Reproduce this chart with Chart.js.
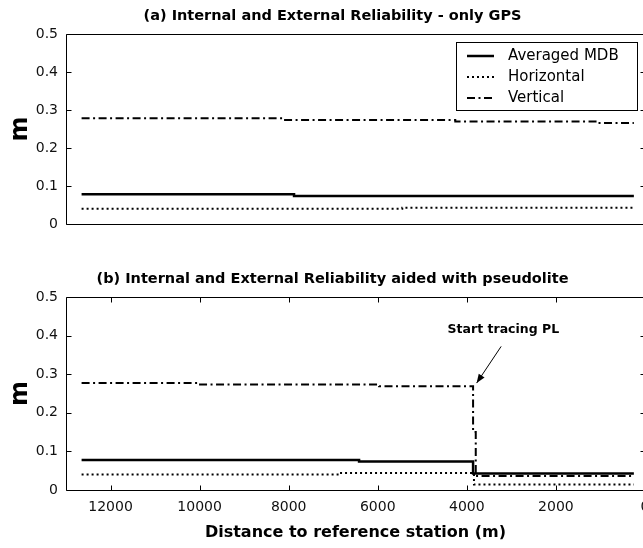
<!DOCTYPE html>
<html><head><meta charset="utf-8">
<script src="https://cdn.jsdelivr.net/npm/chart.js@4/dist/chart.umd.min.js"></script>
<style>
html,body{margin:0;padding:0;background:#fff;overflow:hidden;width:643px;height:548px;}
#wrap{position:relative;width:643px;height:548px;overflow:hidden;background:#fff;}
canvas{position:absolute;left:0;}
#ca{top:0;} #cb{top:250px;}
</style></head><body>
<div id="wrap"><canvas id="ca" width="660" height="245"></canvas><canvas id="cb" width="660" height="298"></canvas></div>
<script>
// ---------- data ----------
const seriesLabels = ['Averaged MDB', 'Horizontal', 'Vertical'];
const xTickValues = [12000, 10000, 8000, 6000, 4000, 2000, 0];
const yTickValues = [0, 0.1, 0.2, 0.3, 0.4, 0.5];
// (a) only GPS
const aMdbX = [12650, 7880, 250];
const aMdbY = [0.078, 0.074, 0.074];
const aHorX = [12650, 5450, 250];
const aHorY = [0.040, 0.043, 0.043];
const aVerX = [12650, 8130, 4260, 1050, 250];
const aVerY = [0.278, 0.274, 0.270, 0.266, 0.266];
// (b) aided with pseudolite
const bMdbX = [12650, 6420, 3860, 250];
const bMdbY = [0.078, 0.074, 0.043, 0.043];
const bHorX = [12650, 6850, 3840, 250];
const bHorY = [0.040, 0.044, 0.014, 0.014];
const bVerX = [12650, 9990, 5970, 3860, 3800, 250];
const bVerY = [0.277, 0.273, 0.269, 0.150, 0.036, 0.036];
// annotation (data coordinates)
const noteText = 'Start tracing PL';
const noteTextAt = [3180, 0.415];
const noteTail = [3230, 0.372];
const noteTip = [3780, 0.277];
const titleA = '(a) Internal and External Reliability - only GPS';
const titleB = '(b) Internal and External Reliability aided with pseudolite';
const xTitle = 'Distance to reference station (m)';
const yTitle = 'm';

// ---------- styles ----------
const lineStyles = [
  {borderWidth: 2.5, borderDash: []},
  {borderWidth: 2, borderDash: [2, 3]},
  {borderWidth: 2, borderDash: [8, 3.5, 2, 3.5]}
];

function makeDataset(i, xs, ys) {
  return {
    label: seriesLabels[i],
    data: xs.map((x, k) => ({x: x, y: ys[k]})),
    stepped: true,
    borderColor: '#000',
    backgroundColor: '#000',
    borderWidth: lineStyles[i].borderWidth,
    borderDash: lineStyles[i].borderDash,
    borderCapStyle: 'butt',
    pointRadius: 0,
    fill: false
  };
}

const framePlugin = {
  id: 'frame',
  afterDraw(chart, args, o) {
    const ctx = chart.ctx, a = chart.chartArea, xs = chart.scales.x, ys = chart.scales.y;
    const L = Math.round(a.left) + 0.5, R = Math.round(a.right) + 0.5, T = Math.round(a.top) + 0.5, B = Math.round(a.bottom) + 0.5;
    ctx.save();
    ctx.strokeStyle = '#000';
    ctx.lineWidth = 1;
    ctx.setLineDash([]);
    ctx.beginPath();
    ctx.rect(L, T, R - L, B - T);
    const tl = 5;
    yTickValues.forEach(v => {
      const p = Math.round(ys.getPixelForValue(v)) + 0.5;
      ctx.moveTo(L, p); ctx.lineTo(L + tl, p);
      ctx.moveTo(R, p); ctx.lineTo(R - tl, p);
    });
    if (o && o.xTicks) {
      xTickValues.forEach(v => {
        const p = Math.round(xs.getPixelForValue(v)) + 0.5;
        ctx.moveTo(p, B); ctx.lineTo(p, B - tl);
        ctx.moveTo(p, T); ctx.lineTo(p, T + tl);
      });
    }
    ctx.stroke();
    ctx.restore();
  }
};

const legendPlugin = {
  id: 'boxLegend',
  afterDraw(chart, args, o) {
    if (!o || !o.show) return;
    const ctx = chart.ctx;
    ctx.save();
    ctx.fillStyle = '#fff';
    ctx.fillRect(o.x, o.y, o.w, o.h);
    ctx.strokeStyle = '#000';
    ctx.lineWidth = 1;
    ctx.setLineDash([]);
    ctx.strokeRect(o.x + 0.5, o.y + 0.5, o.w, o.h);
    chart.data.datasets.forEach((d, i) => {
      const yy = o.y + o.rows[i];
      ctx.setLineDash(d.borderDash || []);
      ctx.lineWidth = d.borderWidth;
      ctx.lineCap = 'butt';
      ctx.beginPath();
      ctx.moveTo(o.x + 11, yy); ctx.lineTo(o.x + 38, yy);
      ctx.stroke();
      ctx.setLineDash([]);
      ctx.fillStyle = '#000';
      ctx.font = '15px "DejaVu Sans"';
      ctx.textAlign = 'left';
      ctx.textBaseline = 'middle';
      ctx.fillText(d.label, o.x + 52, yy);
    });
    ctx.restore();
  }
};

const notePlugin = {
  id: 'note',
  afterDraw(chart, args, o) {
    if (!o || !o.show) return;
    const ctx = chart.ctx, xs = chart.scales.x, ys = chart.scales.y;
    const tx = xs.getPixelForValue(noteTip[0]), ty = ys.getPixelForValue(noteTip[1]);
    const sx = xs.getPixelForValue(noteTail[0]), sy = ys.getPixelForValue(noteTail[1]);
    ctx.save();
    ctx.strokeStyle = '#000'; ctx.fillStyle = '#000';
    ctx.lineWidth = 1; ctx.setLineDash([]);
    ctx.beginPath(); ctx.moveTo(sx, sy); ctx.lineTo(tx, ty); ctx.stroke();
    const ang = Math.atan2(ty - sy, tx - sx), hl = 9, hw = 3.5;
    ctx.beginPath();
    ctx.moveTo(tx, ty);
    ctx.lineTo(tx - hl * Math.cos(ang) + hw * Math.sin(ang), ty - hl * Math.sin(ang) - hw * Math.cos(ang));
    ctx.lineTo(tx - hl * Math.cos(ang) - hw * Math.sin(ang), ty - hl * Math.sin(ang) + hw * Math.cos(ang));
    ctx.closePath(); ctx.fill();
    ctx.font = 'bold 12.5px "DejaVu Sans"';
    ctx.textAlign = 'center'; ctx.textBaseline = 'middle';
    ctx.fillText(noteText, xs.getPixelForValue(noteTextAt[0]), ys.getPixelForValue(noteTextAt[1]));
    ctx.restore();
  }
};

function makeOptions(cfg) {
  return {
    responsive: false,
    animation: false,
    devicePixelRatio: 1,
    layout: {padding: {left: 20, right: 15, top: 0, bottom: cfg.padBottom}},
    plugins: {
      legend: {display: false},
      tooltip: {enabled: false},
      title: {
        display: true, text: cfg.title, color: '#000',
        font: {family: 'DejaVu Sans', weight: 'bold', size: 14.5},
        padding: {top: cfg.titleTop, bottom: cfg.titleBottom}
      },
      frame: {xTicks: cfg.showX},
      boxLegend: cfg.legend,
      note: {show: cfg.note}
    },
    scales: {
      x: {
        type: 'linear', reverse: true, min: 0, max: 13000,
        afterBuildTicks: s => { s.ticks = xTickValues.map(v => ({value: v})); },
        ticks: {display: cfg.showX, color: '#111', font: {family: 'DejaVu Sans', size: 14}, padding: 9, maxRotation: 0, autoSkip: false, callback: v => String(v)},
        grid: {display: false, drawTicks: false}, border: {display: false},
        title: {display: cfg.showX, text: xTitle, color: '#000', font: {family: 'DejaVu Sans', weight: 'bold', size: 16}, padding: {top: 0, bottom: 5.6}},
        afterFit: s => { s.height = cfg.showX ? 58 : 0; }
      },
      y: {
        min: 0, max: 0.5,
        afterBuildTicks: s => { s.ticks = yTickValues.map(v => ({value: v})); },
        ticks: {color: '#111', font: {family: 'DejaVu Sans', size: 14}, padding: 8, callback: v => String(v)},
        grid: {display: false, drawTicks: false}, border: {display: false},
        title: {display: true, text: yTitle, color: '#000', font: {family: 'DejaVu Sans', weight: 'bold', size: 24}, padding: {top: -13.6, bottom: 0}},
        afterFit: s => { s.width = 46; }
      }
    }
  };
}

new Chart(document.getElementById('ca'), {
  type: 'line',
  data: {datasets: [makeDataset(0, aMdbX, aMdbY), makeDataset(1, aHorX, aHorY), makeDataset(2, aVerX, aVerY)]},
  options: makeOptions({padBottom: 21, title: titleA, titleTop: 8, titleBottom: 8.6, showX: false,
    legend: {show: true, x: 456, y: 42, w: 181, h: 68, rows: [14, 35, 56]}, note: false}),
  plugins: [framePlugin, legendPlugin, notePlugin]
});
new Chart(document.getElementById('cb'), {
  type: 'line',
  data: {datasets: [makeDataset(0, bMdbX, bMdbY), makeDataset(1, bHorX, bHorY), makeDataset(2, bVerX, bVerY)]},
  options: makeOptions({padBottom: 0, title: titleB, titleTop: 20.3, titleBottom: 9.3, showX: true,
    legend: {show: false}, note: true}),
  plugins: [framePlugin, legendPlugin, notePlugin]
});
</script>
</body></html>
